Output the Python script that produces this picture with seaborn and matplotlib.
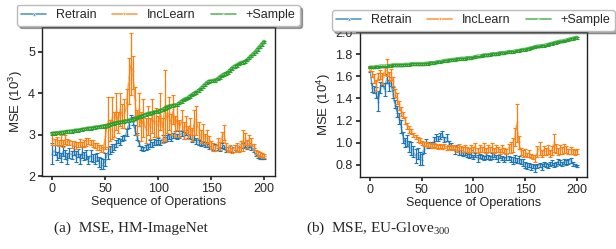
import numpy as np
import matplotlib
matplotlib.use("Agg")
import matplotlib.pyplot as plt
import seaborn as sns

# x positions: every 2nd operation, 0..200
ops = list(range(0, 201, 2))

# ---- (a) HM-ImageNet, MSE in 10^3 ----
img_retrain = [2.55, 2.62, 2.48, 2.58, 2.45, 2.60, 2.52, 2.42, 2.56, 2.50, 2.62, 2.47, 2.55, 2.40, 2.58, 2.48, 2.52, 2.38, 2.50, 2.44, 2.42, 2.46, 2.35, 2.30, 2.28,
               2.40, 2.55, 2.62, 2.68, 2.70, 2.78, 2.85, 2.82, 2.90, 2.92, 3.05, 3.25, 3.40, 3.32, 3.10,
               2.95, 2.78, 2.68, 2.65, 2.70, 2.72, 2.78, 2.75, 2.82, 2.80, 2.85, 2.82, 2.90, 2.88, 2.92,
               2.95, 2.92, 2.98, 3.00, 2.96, 3.00, 3.02, 2.98, 3.05, 3.00, 2.95, 2.90, 2.92, 2.85, 2.80,
               2.78, 2.80, 2.75, 2.76, 2.72, 2.70, 2.68, 2.72, 2.70, 2.66, 2.74, 2.70, 2.65, 2.62, 2.66,
               2.64, 2.68, 2.70, 2.66, 2.72, 2.74, 2.76, 2.72, 2.75, 2.70, 2.62, 2.52, 2.48, 2.46, 2.44,
               2.45]
img_retrain_err = [0.25, 0.12, 0.10, 0.14, 0.10, 0.12, 0.10, 0.14, 0.12, 0.10, 0.12, 0.14, 0.10, 0.12, 0.14, 0.10, 0.12, 0.10, 0.14, 0.10, 0.12, 0.10, 0.12, 0.14, 0.12,
                   0.16, 0.14, 0.10, 0.10, 0.08, 0.08, 0.06, 0.08, 0.06, 0.06, 0.08, 0.10, 0.08, 0.10, 0.12,
                   0.08, 0.06, 0.05, 0.05, 0.06, 0.06, 0.08, 0.06, 0.08, 0.06, 0.08, 0.06, 0.08, 0.06, 0.08,
                   0.06, 0.08, 0.06, 0.08, 0.06, 0.08, 0.06, 0.08, 0.06, 0.08, 0.06, 0.08, 0.06, 0.08, 0.06,
                   0.06, 0.05, 0.06, 0.05, 0.06, 0.05, 0.06, 0.05, 0.06, 0.05, 0.06, 0.05, 0.06, 0.05, 0.06,
                   0.05, 0.06, 0.05, 0.06, 0.05, 0.06, 0.05, 0.06, 0.05, 0.06, 0.05, 0.04, 0.04, 0.04, 0.04,
                   0.04]
img_inclearn = [2.90, 2.82, 2.85, 2.80, 2.86, 2.78, 2.88, 2.82, 2.80, 2.76, 2.78, 2.74, 2.76, 2.80, 2.75, 2.78, 2.82, 2.85, 2.80, 2.78, 2.74, 2.72, 2.70, 2.66, 2.64,
                2.95, 3.30, 3.10, 3.40, 3.25, 3.55, 3.30, 3.60, 3.45, 3.50, 3.70, 4.30, 4.70, 4.50, 3.80,
                3.30, 3.60, 3.20, 3.40, 3.10, 3.35, 3.15, 3.45, 3.25, 3.30, 3.20, 3.55, 3.10, 3.70, 3.35,
                3.50, 3.25, 3.60, 3.20, 3.40, 3.15, 3.35, 3.10, 3.25, 3.05, 3.20, 3.00, 3.30, 3.35, 3.10,
                2.95, 3.05, 2.90, 2.95, 2.85, 2.75, 2.70, 2.68, 2.80, 2.72, 2.95, 3.05, 2.72, 2.65, 2.68,
                2.62, 2.66, 2.70, 2.64, 2.72, 2.85, 2.90, 2.78, 2.88, 2.82, 2.70, 2.58, 2.55, 2.52, 2.50,
                2.48]
img_inclearn_err = [0.15, 0.08, 0.10, 0.08, 0.12, 0.08, 0.10, 0.08, 0.06, 0.08, 0.06, 0.08, 0.06, 0.10, 0.06, 0.08, 0.10, 0.08, 0.06, 0.08, 0.06, 0.08, 0.06, 0.08, 0.06,
                    0.30, 0.60, 0.25, 0.50, 0.30, 0.45, 0.25, 0.40, 0.30, 0.35, 0.40, 0.55, 0.75, 0.40, 0.35,
                    0.30, 0.40, 0.35, 0.45, 0.30, 0.35, 0.25, 0.40, 0.30, 0.35, 0.25, 0.45, 0.30, 0.85, 0.30,
                    0.40, 0.25, 0.35, 0.25, 0.30, 0.20, 0.25, 0.20, 0.20, 0.15, 0.20, 0.15, 0.30, 0.35, 0.20,
                    0.15, 0.20, 0.12, 0.15, 0.12, 0.10, 0.10, 0.08, 0.12, 0.10, 0.12, 0.18, 0.08, 0.06, 0.08,
                    0.06, 0.08, 0.10, 0.06, 0.12, 0.25, 0.15, 0.10, 0.12, 0.10, 0.08, 0.06, 0.06, 0.05, 0.05,
                    0.05]
img_sample = [3.03, 3.03, 3.04, 3.04, 3.05, 3.05, 3.06, 3.07, 3.07, 3.08, 3.09, 3.10, 3.10, 3.11, 3.12, 3.13, 3.14, 3.15, 3.15, 3.16, 3.17, 3.18, 3.18, 3.19, 3.20,
              3.20, 3.22, 3.24, 3.25, 3.27, 3.28, 3.29, 3.30, 3.31, 3.32, 3.33, 3.34, 3.35, 3.36, 3.38,
              3.40, 3.42, 3.44, 3.46, 3.48, 3.50, 3.51, 3.52, 3.54, 3.55, 3.56, 3.58, 3.60, 3.63, 3.66,
              3.68, 3.69, 3.70, 3.71, 3.72, 3.76, 3.80, 3.84, 3.86, 3.88, 3.92, 3.96, 3.99, 4.02, 4.06,
              4.10, 4.15, 4.20, 4.25, 4.28, 4.29, 4.30, 4.31, 4.34, 4.38, 4.42, 4.45, 4.47, 4.50, 4.55,
              4.60, 4.64, 4.67, 4.70, 4.73, 4.74, 4.76, 4.80, 4.85, 4.90, 4.95, 5.00, 5.06, 5.12, 5.18,
              5.24]
img_sample_err = 0.03

# ---- (b) EU-Glove300, MSE in 10^4 ----
glove_retrain = [1.66, 1.50, 1.48, 1.45, 1.38, 1.50, 1.55, 1.48, 1.58, 1.52, 1.55, 1.45, 1.35, 1.28, 1.22, 1.15, 1.05, 1.00, 1.02, 0.97, 0.95, 0.92, 0.88, 0.90, 0.86,
                 0.85, 0.95, 1.00, 0.98, 0.97, 0.98, 1.02, 1.05, 1.04, 1.06, 1.08, 1.03, 1.05, 1.00, 0.97,
                 0.95, 0.93, 0.96, 0.92, 0.91, 0.90, 0.92, 0.89, 0.88, 0.90, 0.87, 0.89, 0.86, 0.88, 0.87,
                 0.86, 0.88, 0.87, 0.86, 0.88, 0.89, 0.87, 0.86, 0.88, 0.86, 0.85, 0.87, 0.86, 0.85, 0.84,
                 0.86, 0.84, 0.85, 0.83, 0.82, 0.80, 0.79, 0.80, 0.78, 0.79, 0.77, 0.79, 0.80, 0.78, 0.81,
                 0.80, 0.79, 0.81, 0.82, 0.80, 0.81, 0.83, 0.82, 0.81, 0.83, 0.82, 0.83, 0.84, 0.81, 0.80,
                 0.79]
glove_retrain_err = [0.02, 0.04, 0.03, 0.05, 0.09, 0.05, 0.04, 0.06, 0.04, 0.05, 0.04, 0.05, 0.04, 0.05, 0.05, 0.06, 0.05, 0.04, 0.05, 0.05, 0.06, 0.05, 0.06, 0.05, 0.06,
                     0.05, 0.04, 0.03, 0.03, 0.02, 0.03, 0.03, 0.03, 0.02, 0.03, 0.03, 0.02, 0.03, 0.02, 0.03,
                     0.02, 0.03, 0.02, 0.03, 0.02, 0.02, 0.03, 0.02, 0.02, 0.03, 0.02, 0.02, 0.03, 0.02, 0.02,
                     0.02, 0.03, 0.02, 0.02, 0.03, 0.02, 0.02, 0.03, 0.02, 0.02, 0.02, 0.03, 0.02, 0.02, 0.03,
                     0.03, 0.02, 0.03, 0.02, 0.03, 0.03, 0.03, 0.02, 0.03, 0.02, 0.03, 0.02, 0.02, 0.03, 0.02,
                     0.02, 0.02, 0.02, 0.02, 0.02, 0.02, 0.02, 0.02, 0.02, 0.02, 0.02, 0.02, 0.02, 0.02, 0.01,
                     0.01]
glove_inclearn = [1.67, 1.62, 1.58, 1.52, 1.60, 1.62, 1.58, 1.65, 1.68, 1.60, 1.62, 1.55, 1.45, 1.40, 1.34, 1.28, 1.25, 1.20, 1.15, 1.12, 1.10, 1.07, 1.05, 1.03, 1.02,
                  1.00, 0.99, 0.99, 0.98, 0.98, 0.97, 0.98, 0.97, 0.96, 0.97, 0.96, 0.97, 0.95, 0.96, 0.95,
                  0.96, 0.95, 0.94, 0.96, 0.95, 0.94, 0.95, 0.94, 0.93, 0.95, 0.94, 0.96, 0.93, 0.95, 0.94,
                  0.96, 0.93, 0.95, 0.94, 0.96, 0.93, 0.95, 0.94, 0.92, 0.95, 0.93, 0.92, 0.95, 0.96, 0.98,
                  1.05, 1.18, 1.00, 0.92, 0.90, 0.91, 0.89, 0.90, 0.88, 0.87, 0.86, 0.92, 0.95, 0.90, 0.93,
                  0.92, 0.94, 0.90, 0.93, 1.00, 0.95, 0.92, 0.94, 0.93, 0.95, 0.94, 0.92, 0.93, 0.92, 0.91,
                  0.92]
glove_inclearn_err = [0.02, 0.03, 0.04, 0.05, 0.03, 0.04, 0.05, 0.04, 0.08, 0.04, 0.05, 0.04, 0.04, 0.05, 0.04, 0.04, 0.03, 0.03, 0.03, 0.03, 0.02, 0.02, 0.02, 0.02, 0.02,
                      0.02, 0.02, 0.02, 0.02, 0.02, 0.02, 0.02, 0.02, 0.02, 0.02, 0.02, 0.02, 0.02, 0.02, 0.02,
                      0.02, 0.02, 0.02, 0.03, 0.02, 0.02, 0.03, 0.02, 0.02, 0.03, 0.02, 0.04, 0.02, 0.03, 0.02,
                      0.04, 0.02, 0.03, 0.02, 0.04, 0.02, 0.03, 0.02, 0.02, 0.03, 0.02, 0.02, 0.04, 0.05, 0.06,
                      0.08, 0.17, 0.06, 0.03, 0.03, 0.03, 0.02, 0.03, 0.02, 0.02, 0.03, 0.05, 0.06, 0.03, 0.04,
                      0.03, 0.04, 0.03, 0.04, 0.08, 0.04, 0.03, 0.04, 0.03, 0.04, 0.03, 0.02, 0.03, 0.02, 0.02,
                      0.02]
glove_sample = [1.68, 1.68, 1.68, 1.685, 1.685, 1.69, 1.69, 1.69, 1.69, 1.695, 1.695, 1.70, 1.70, 1.70, 1.70, 1.70, 1.70, 1.705, 1.705, 1.705, 1.71, 1.71, 1.71, 1.71, 1.71,
                1.71, 1.71, 1.715, 1.715, 1.72, 1.72, 1.72, 1.725, 1.73, 1.73, 1.735, 1.74, 1.74, 1.745, 1.745,
                1.75, 1.75, 1.755, 1.755, 1.76, 1.76, 1.76, 1.765, 1.765, 1.765, 1.77, 1.775, 1.78, 1.78, 1.785,
                1.79, 1.79, 1.79, 1.795, 1.80, 1.80, 1.80, 1.805, 1.81, 1.81, 1.81, 1.815, 1.82, 1.82, 1.82,
                1.825, 1.83, 1.83, 1.835, 1.84, 1.84, 1.845, 1.85, 1.855, 1.86, 1.865, 1.87, 1.87, 1.875, 1.875,
                1.88, 1.885, 1.89, 1.895, 1.90, 1.905, 1.91, 1.915, 1.915, 1.92, 1.925, 1.93, 1.935, 1.94, 1.945,
                1.95]
glove_sample_err = 0.008

series_names = ["Retrain", "IncLearn", "+Sample"]
colors = ["#1f77b4", "#ff7f0e", "#2ca02c"]
markers = ["^", "v", "1"]

sns.set_theme(style="ticks")
plt.rcParams['font.family'] = ['Liberation Sans', 'DejaVu Sans']
plt.rcParams['axes.edgecolor'] = '#222222'
plt.rcParams['axes.linewidth'] = 1.0

fig = plt.figure(figsize=(6.16, 2.49), dpi=100)
ax1 = fig.add_axes([0.068, 0.293, 0.378, 0.599])
ax2 = fig.add_axes([0.584, 0.289, 0.369, 0.582])


def draw(ax, vals, errs):
    for name, v, e, c, m in zip(series_names, vals, errs, colors, markers):
        lw = 3.0 if name == "+Sample" else 1.0
        sns.lineplot(x=ops, y=v, ax=ax, color=c, marker=m, markersize=2.5,
                     markeredgewidth=0.6, linewidth=lw, alpha=0.75, label=name)
        ax.errorbar(ops, v, yerr=e, fmt="none", ecolor=c, elinewidth=0.9,
                    capsize=1.5, capthick=0.8)
    ax.set_xlabel("Sequence of Operations", fontsize=9, labelpad=1)
    ax.set_xticks([0, 50, 100, 150, 200])
    ax.tick_params(labelsize=9, length=3, pad=2)
    leg = ax.legend(loc="lower center", bbox_to_anchor=(0.5, 1.0), ncol=3,
                    fontsize=9, frameon=True, shadow=True, fancybox=True,
                    numpoints=1, handlelength=2, columnspacing=1.2,
                    borderpad=0.35, borderaxespad=0.1, edgecolor="#bbbbbb")
    for line in leg.get_lines():
        line.set_linewidth(1.2)
    for s in ax.spines.values():
        s.set_visible(True)


draw(ax1, [img_retrain, img_inclearn, img_sample],
     [img_retrain_err, img_inclearn_err, img_sample_err])
ax1.set_ylim(2.0, 5.6)
ax1.set_yticks([2, 3, 4, 5])
ax1.set_ylabel(r"MSE ($\mathregular{10^3}$)", fontsize=9.5, labelpad=2)

draw(ax2, [glove_retrain, glove_inclearn, glove_sample],
     [glove_retrain_err, glove_inclearn_err, glove_sample_err])
ax2.set_ylim(0.69, 2.0)
ax2.set_yticks([0.8, 1.0, 1.2, 1.4, 1.6, 1.8, 2.0])
ax2.set_ylabel(r"MSE ($\mathregular{10^4}$)", fontsize=9.5, labelpad=2)

cap_font = ['Liberation Serif', 'DejaVu Serif']
fig.text(0.213, 0.084, "(a)  MSE, HM-ImageNet", ha="center", va="center",
         fontsize=11, family=cap_font)
fig.text(0.614, 0.084, r"(b)  MSE, EU-Glove$_{\mathregular{300}}$", ha="center",
         va="center", fontsize=11, family=cap_font)

fig.savefig("out.png", dpi=100)
